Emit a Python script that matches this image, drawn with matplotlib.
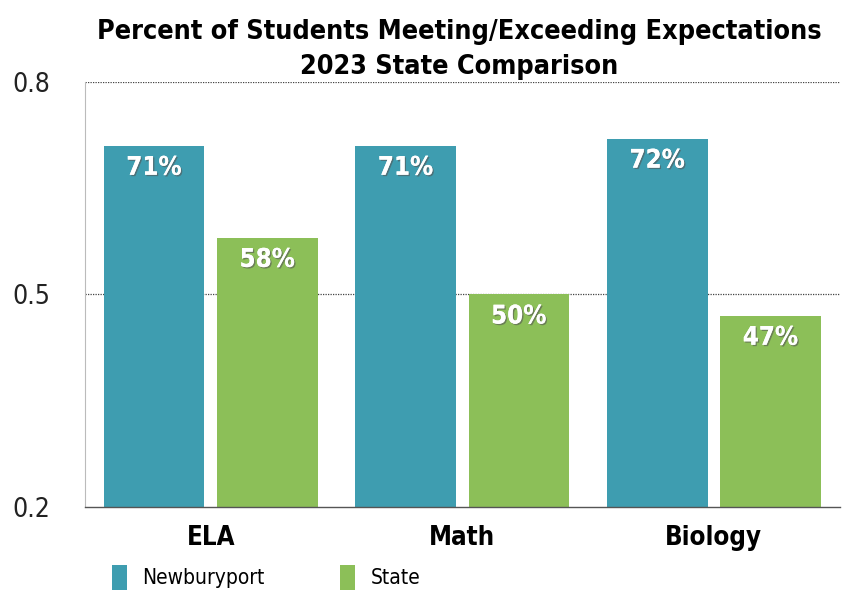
import matplotlib
matplotlib.use("Agg")
import matplotlib.pyplot as plt
import matplotlib.patheffects as pe
from matplotlib.patches import Patch
import numpy as np

categories = ["ELA", "Math", "Biology"]
newburyport = [0.71, 0.71, 0.72]
state = [0.58, 0.50, 0.47]
series_names = ["Newburyport", "State"]
yticks = [0.2, 0.5, 0.8]
ytick_labels = ["0.2", "0.5", "0.8"]

teal = "#3e9db0"
green = "#8cbf58"

plt.rcParams['font.family'] = ['DejaVu Sans']
plt.rcParams['font.stretch'] = 'condensed'

fig = plt.figure(figsize=(8.49, 5.92), dpi=100)
ax = fig.add_axes([0.100, 0.1436, 0.889, 0.7179])

x = np.arange(len(categories))
w = 0.40
off = 0.225
b1 = ax.bar(x - off, newburyport, width=w, color=teal, bottom=0)
b2 = ax.bar(x + off, state, width=w, color=green, bottom=0)

ax.set_ylim(0.2, 0.8)
ax.set_xlim(-0.5, 2.5)
ax.set_yticks(yticks)
ax.set_yticklabels(ytick_labels, fontsize=19, color="#222222")
ax.tick_params(axis='y', length=0, pad=52.5)
for t in ax.get_yticklabels():
    t.set_horizontalalignment('left')
ax.set_xticks(x)
ax.set_xticklabels(categories, fontsize=18.5, fontweight='bold')
ax.tick_params(axis='x', length=0, pad=13)

for yv in [0.5, 0.8]:
    ax.axhline(yv, color="#444444", linestyle=(0, (1, 1)), linewidth=0.9, zorder=0)

for s in ['top', 'right']:
    ax.spines[s].set_visible(False)
ax.spines['left'].set_color("#bbbbbb")
ax.spines['bottom'].set_color("#555555")
ax.spines['bottom'].set_linewidth(1.0)

shadow = [pe.withSimplePatchShadow(offset=(1, -1), shadow_rgbFace="#555555", alpha=0.6), pe.Normal()]
for bars, vals in [(b1, newburyport), (b2, state)]:
    for rect, v in zip(bars, vals):
        cx = rect.get_x() + rect.get_width() / 2
        ax.annotate(f"{round(v*100)}%", (cx, v), xytext=(0, -22), textcoords='offset pixels',
                    ha='center', va='center', color='white', fontsize=18.5, fontweight='bold',
                    path_effects=shadow)

fig.text(0.541, 0.917, "Percent of Students Meeting/Exceeding Expectations\n2023 State Comparison",
         ha='center', va='center', fontsize=19.4, fontweight='bold', linespacing=1.45)

handles = [Patch(facecolor=teal), Patch(facecolor=green)]
leg = fig.legend(handles, series_names, loc='center left', bbox_to_anchor=(0.122, 0.025), ncol=2,
                 frameon=False, fontsize=15, handlelength=0.72, handleheight=1.45,
                 columnspacing=3.6, handletextpad=0.75, borderaxespad=0)

fig.savefig("out.png", dpi=100)
